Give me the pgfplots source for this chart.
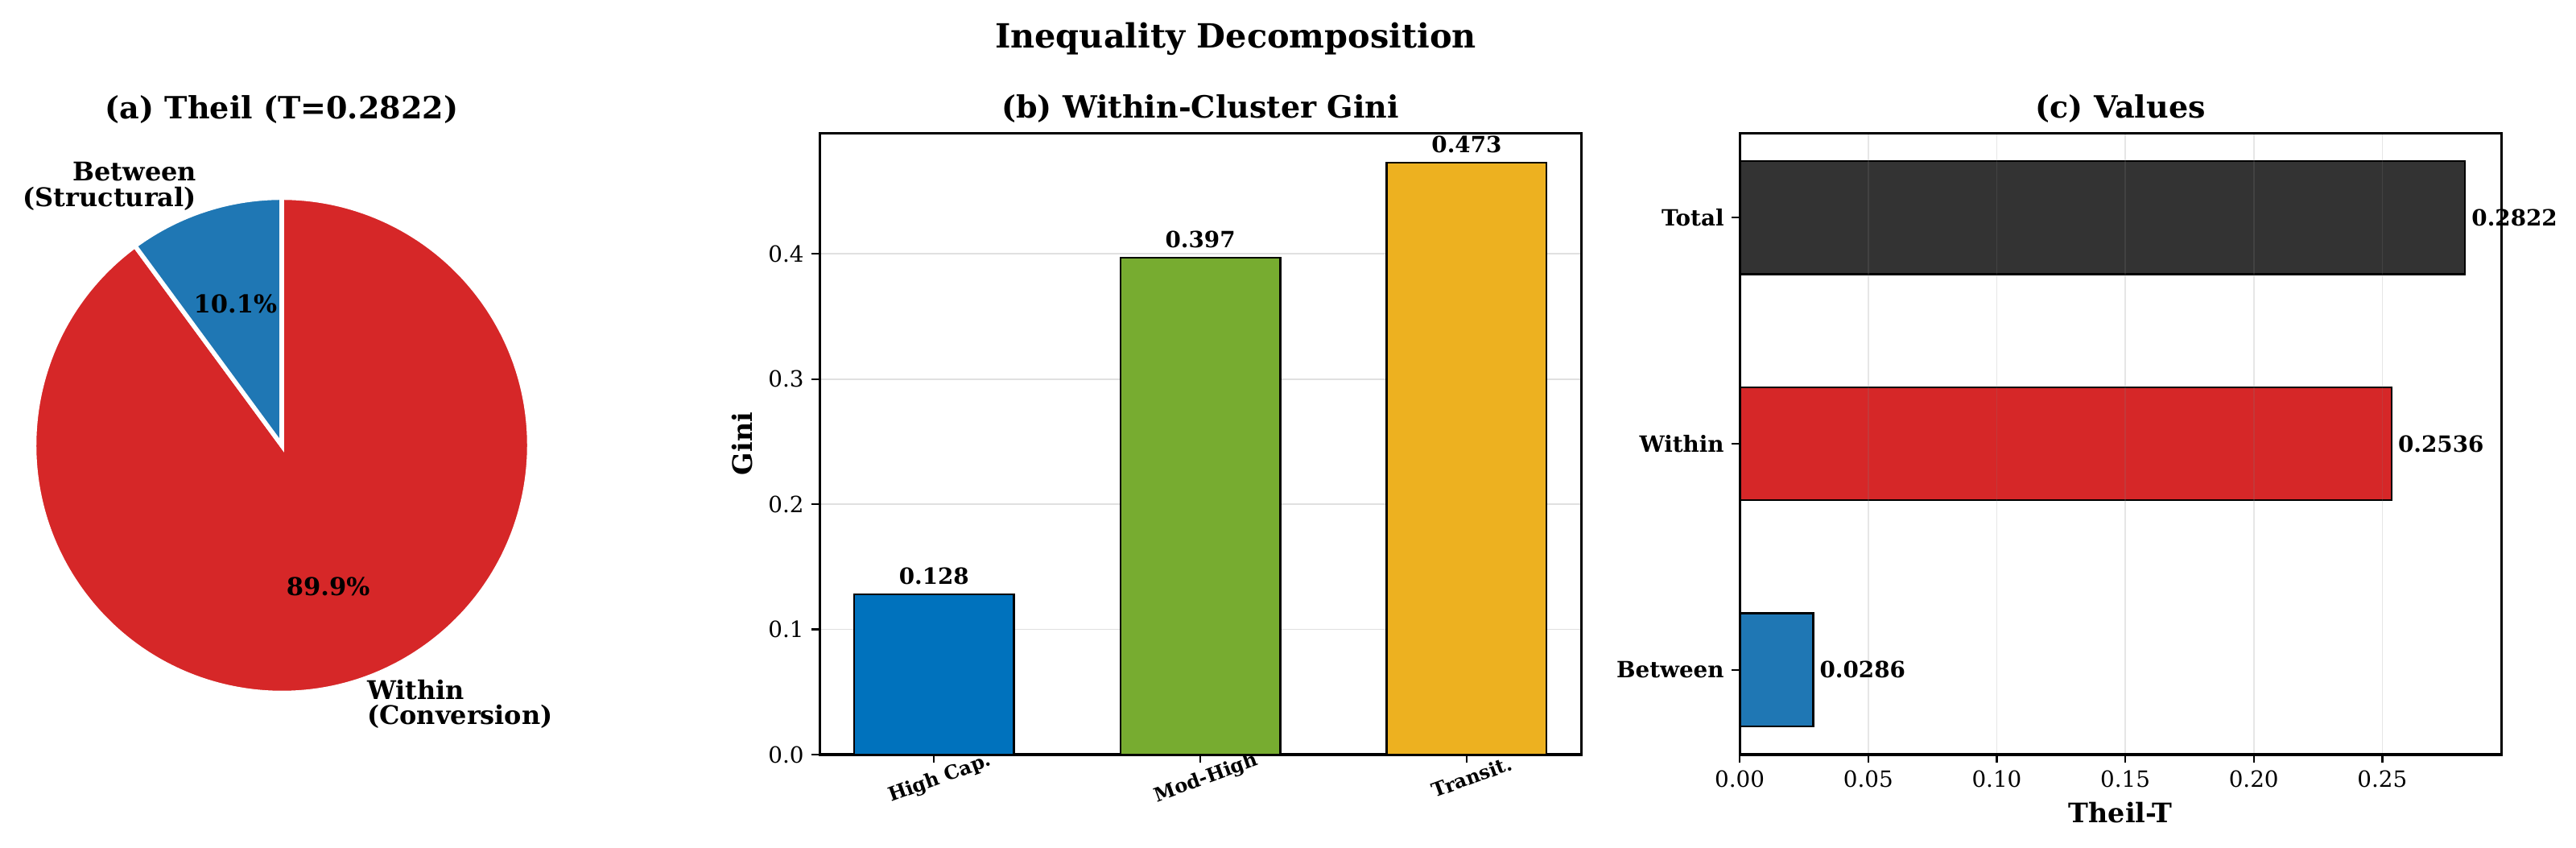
\documentclass[border=0pt]{standalone}
\usepackage{fontspec}
\setmainfont{DejaVu Serif}
\usepackage{pgfplots}
\pgfplotsset{compat=1.18}

\definecolor{tabblue}{HTML}{1F77B4}
\definecolor{tabred}{HTML}{D62728}
\definecolor{mblue}{HTML}{0072BD}
\definecolor{mgreen}{HTML}{77AC30}
\definecolor{myellow}{HTML}{EDB120}
\definecolor{dgray}{HTML}{333333}

\newcommand\fsz[1]{\fontsize{#1}{#1}\selectfont}

\pgfplotsset{
  panel/.style={
    scale only axis, width=340.6pt, height=277.9pt, clip=false,
    axis line style={line width=1.1pt},
    tick align=outside, tick pos=left, major tick length=3.5pt,
    tick style={line width=0.8pt, black},
    /pgf/number format/assume math mode=true,
    ticklabel style={font=\fsz{10}},
    title style={font=\bfseries\fsz{13.7}, inner sep=0pt, yshift=-1.5pt},
    label style={font=\bfseries\fsz{12}},
    nodes near coords, point meta=explicit symbolic,
  },
  barstyle/.style={draw=black, line width=0.9pt},
}

\begin{document}
\begin{tikzpicture}
\useasboundingbox (0,0) rectangle (1152pt,379.08pt);

% pie shares (percent)
\def\pB{10.1}
\def\pW{89.9}
\def\R{3.891}
\pgfmathsetmacro\aB{90+3.6*\pB}
\pgfmathsetmacro\mB{90+1.8*\pB}
\pgfmathsetmacro\mW{\aB+1.8*\pW}
\pgfmathsetmacro\lBx{1.1*\R*cos(\mB)}
\pgfmathsetmacro\lBy{1.1*\R*sin(\mB)}
\pgfmathsetmacro\lWx{1.1*\R*cos(\mW)}
\pgfmathsetmacro\lWy{1.1*\R*sin(\mW)}
\pgfmathsetmacro\pBx{0.6*\R*cos(\mB)}
\pgfmathsetmacro\pBy{0.6*\R*sin(\mB)}
\pgfmathsetmacro\pWx{0.6*\R*cos(\mW)}
\pgfmathsetmacro\pWy{0.6*\R*sin(\mW)}

\begin{axis}[at={(126pt,180pt)}, anchor=center, hide axis,
  x=1cm, y=1cm, xmin=-5, xmax=5, ymin=-5, ymax=5, clip=false]
\draw[fill=tabred, draw=white, line width=2pt]
  (axis cs:0,0) -- (axis cs:{\R*cos(\aB)},{\R*sin(\aB)})
  arc[start angle=\aB, end angle=450, radius=\R] -- cycle;
\draw[fill=tabblue, draw=white, line width=2pt]
  (axis cs:0,0) -- (axis cs:0,\R)
  arc[start angle=90, end angle=\aB, radius=\R] -- cycle;
\node[font=\bfseries\fsz{11.5}, anchor=east, align=right, inner sep=0pt]
  at (axis cs:\lBx,\lBy) {Between\\(Structural)};
\node[font=\bfseries\fsz{11.5}, anchor=west, align=left, inner sep=0pt]
  at (axis cs:\lWx,\lWy) {Within\\(Conversion)};
\node[font=\bfseries\fsz{11}] at (axis cs:\pBx,\pBy) {10.1\%};
\node[font=\bfseries\fsz{11}] at (axis cs:\pWx,\pWy) {89.9\%};
\end{axis}

\node[font=\bfseries\fsz{13.7}] at (126pt,330pt) {(a) Theil (T=0.2822)};
\node[font=\bfseries\fsz{14.9}] at (552.6pt,361.8pt) {Inequality Decomposition};

% (b) within-cluster Gini
\begin{axis}[panel, at={(366.5pt,41.76pt)}, anchor=south west,
  ybar, bar width=0.6,
  xmin=-0.43, xmax=2.43, ymin=0, ymax=0.4967,
  xtick={0,1,2}, xticklabels={High Cap.,Mod-High,Transit.},
  xticklabel style={font=\bfseries\fsz{8.6}, rotate=20, anchor=north},
  ytick={0,0.1,0.2,0.3,0.4},
  yticklabel style={/pgf/number format/.cd, fixed, fixed zerofill, precision=1},
  ymajorgrids, grid style={black!12, line width=0.6pt},
  ylabel={Gini},
  title={(b) Within-Cluster Gini},
  nodes near coords style={font=\bfseries\fsz{10}, anchor=south, inner sep=4pt},
]
\addplot[barstyle, fill=mblue, bar shift=0pt] table[meta=lab] {
x y lab
0 0.128 0.128
};
\addplot[barstyle, fill=mgreen, bar shift=0pt] table[meta=lab] {
x y lab
1 0.397 0.397
};
\addplot[barstyle, fill=myellow, bar shift=0pt] table[meta=lab] {
x y lab
2 0.473 0.473
};
\end{axis}

% (c) Theil values
\begin{axis}[panel, at={(778pt,41.76pt)}, anchor=south west,
  xbar, bar width=0.5, axis on top,
  xmin=0, xmax=0.2963, ymin=-0.375, ymax=2.375,
  ytick={0,1,2}, yticklabels={Between,Within,Total},
  yticklabel style={font=\bfseries\fsz{10}},
  xtick={0,0.05,0.1,0.15,0.2,0.25},
  xticklabel style={/pgf/number format/.cd, fixed, fixed zerofill, precision=2},
  xmajorgrids, grid style={gray, opacity=0.2, line width=0.6pt},
  xlabel={Theil-T},
  title={(c) Values},
  nodes near coords style={font=\bfseries\fsz{10}, anchor=west, inner sep=2.5pt},
]
\addplot[barstyle, fill=tabblue, bar shift=0pt] table[meta=lab] {
x y lab
0.0286 0 0.0286
};
\addplot[barstyle, fill=tabred, bar shift=0pt] table[meta=lab] {
x y lab
0.2536 1 0.2536
};
\addplot[barstyle, fill=dgray, bar shift=0pt] table[meta=lab] {
x y lab
0.2822 2 0.2822
};
\end{axis}
\end{tikzpicture}
\end{document}
